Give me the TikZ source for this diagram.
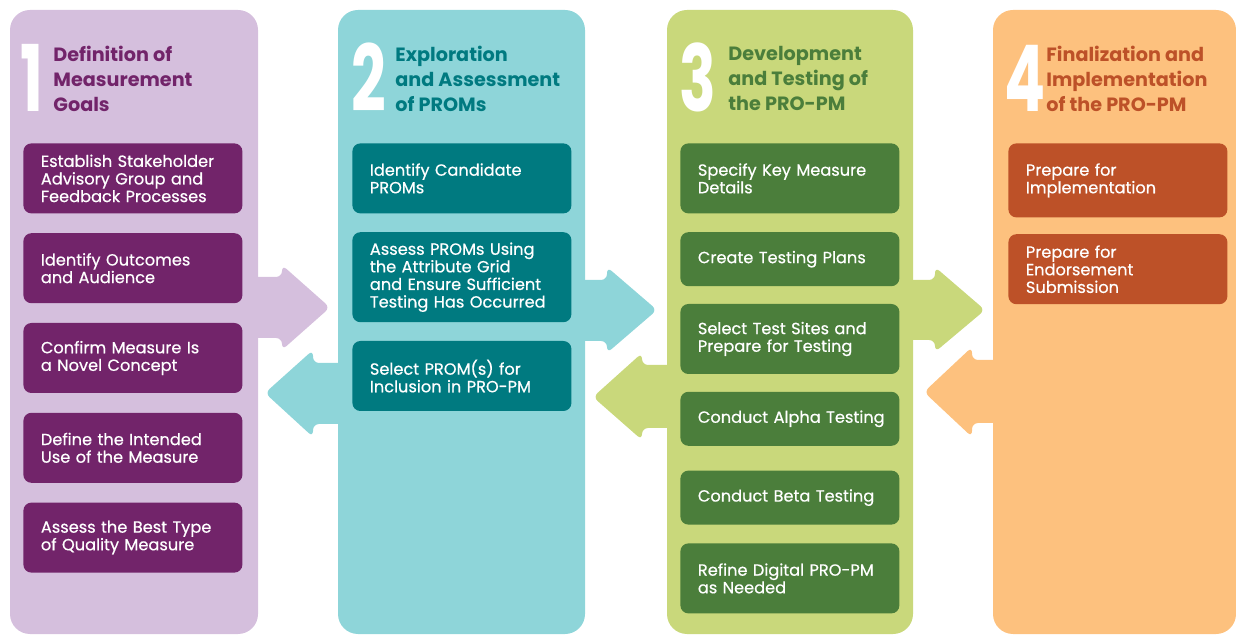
\documentclass[tikz,border=0pt]{standalone}
\usepackage{fontspec}
\setmainfont{Poppins}
\newfontfamily\stagefont{Poppins}[FakeBold=0.5]
\newcommand\stagetext{\stagefont\fontsize{8.1}{8.8}\selectfont\hyphenpenalty10000\relax}
\usetikzlibrary{positioning}
\definecolor{LilacPanel}{HTML}{D5BFDD}
\definecolor{LilacBox}{HTML}{72246A}
\definecolor{TealPanel}{HTML}{8ED5D9}
\definecolor{TealBox}{HTML}{007A80}
\definecolor{LimePanel}{HTML}{C9D87B}
\definecolor{LimeBox}{HTML}{4B7E3B}
\definecolor{PeachPanel}{HTML}{FDC17E}
\definecolor{PeachBox}{HTML}{BD5128}

\begin{document}
\begin{tikzpicture}[
    x=0.5pt, y=-0.5pt,
    node distance=9.5pt,
    panel/.style={rectangle, rounded corners=10pt, minimum height=312pt, inner sep=0pt},
    stage/.style={rectangle, rounded corners=4pt, anchor=north west, minimum height=35pt, text width=92pt, inner xsep=8.75pt, inner ysep=2pt, align=left, text=white, font=\stagetext},
    num/.style={anchor=base west, inner sep=0pt, text=white, font=\fontsize{46}{46}\selectfont\bfseries},
    heading/.style={anchor=north west, inner sep=0pt, align=left, font=\fontsize{9.6}{12.5}\selectfont\bfseries},
    flow/.style={rounded corners=3pt}
]
\useasboundingbox (0,0) rectangle (1236,635);

% Column panels
\node[panel, fill=LilacPanel, minimum width=124pt] (p1) at (134,322) {};
\node[panel, fill=TealPanel, minimum width=123.5pt] (p2) at (461.5,322) {};
\node[panel, fill=LimePanel, minimum width=123pt] (p3) at (790,322) {};
\node[panel, fill=PeachPanel, minimum width=121.5pt] (p4) at (1114.5,322) {};

% Block arrows between the columns
\fill[LilacPanel, flow] (250,277) -- (282,277) -- (282,265) -- (330,307.5) -- (282,350) -- (282,338) -- (250,338) -- cycle;
\fill[TealPanel, flow] (346,363) -- (313,363) -- (313,350) -- (265,393) -- (313,437) -- (313,424) -- (346,424) -- cycle;
\fill[TealPanel, flow] (578,280) -- (607,280) -- (607,267) -- (657,310) -- (607,353) -- (607,341) -- (578,341) -- cycle;
\fill[LimePanel, flow] (674,365) -- (642,365) -- (642,353) -- (593,397) -- (642,440) -- (642,428) -- (674,428) -- cycle;
\fill[LimePanel, flow] (904,280) -- (935,280) -- (935,267) -- (985,310) -- (935,352) -- (935,340) -- (904,340) -- cycle;
\fill[PeachPanel, flow] (1002,360) -- (972,360) -- (972,347) -- (924,392) -- (972,437) -- (972,423) -- (1002,423) -- cycle;

% Stage 1
\node[num] (n1) at (20,112) {\scalebox{0.66}[1]{1}};
\node[heading, text=LilacBox] (h1) at (53,46) {Definition of\\Measurement\\Goals};
\node[stage, fill=LilacBox] (s11) at (23,143) {Establish Stakeholder\\Advisory Group and\\Feedback Processes};
\node[stage, fill=LilacBox, below=of s11] (s12) {Identify Outcomes\\and Audience};
\node[stage, fill=LilacBox, below=of s12] (s13) {Confirm Measure Is\\a Novel Concept};
\node[stage, fill=LilacBox, below=of s13] (s14) {Define the Intended\\Use of the Measure};
\node[stage, fill=LilacBox, below=of s14] (s15) {Assess the Best Type\\of Quality Measure};

% Stage 2
\node[num] (n2) at (351,112) {\scalebox{0.66}[1]{2}};
\node[heading, text=TealBox] (h2) at (395,46) {Exploration\\and Assessment\\of PROMs};
\node[stage, fill=TealBox] (s21) at (352,143) {Identify Candidate\\PROMs};
\node[stage, fill=TealBox, minimum height=45pt, below=9pt of s21] (s22) {Assess PROMs Using\\the Attribute Grid\\and Ensure Sufficient\\Testing Has Occurred};
\node[stage, fill=TealBox, below=9pt of s22] (s23) {Select PROM(s) for\\Inclusion in PRO-PM};

% Stage 3
\node[num] (n3) at (679,112) {\scalebox{0.66}[1]{3}};
\node[heading, text=LimeBox] (h3) at (728,46) {Development\\and Testing of\\the PRO-PM};
\node[stage, fill=LimeBox] (s31) at (680,143) {Specify Key Measure\\Details};
\node[stage, fill=LimeBox, minimum height=27pt, below=9pt of s31] (s32) {Create Testing Plans};
\node[stage, fill=LimeBox, below=8.5pt of s32] (s33) {Select Test Sites and\\Prepare for Testing};
\node[stage, fill=LimeBox, minimum height=27pt, below=8.5pt of s33] (s34) {\mbox{Conduct Alpha Testing}};
\node[stage, fill=LimeBox, minimum height=27pt, below=12pt of s34] (s35) {Conduct Beta Testing};
\node[stage, fill=LimeBox, below=9pt of s35] (s36) {Refine Digital PRO-PM\\as Needed};

% Stage 4
\node[num] (n4) at (1004,112) {\scalebox{0.66}[1]{4}};
\node[heading, text=PeachBox] (h4) at (1046,46) {Finalization and\\Implementation\\of the PRO-PM};
\node[stage, fill=PeachBox, minimum height=37pt] (s41) at (1008,143) {Prepare for\\Implementation};
\node[stage, fill=PeachBox, below=8pt of s41] (s42) {Prepare for\\Endorsement\\Submission};

\end{tikzpicture}
\end{document}
